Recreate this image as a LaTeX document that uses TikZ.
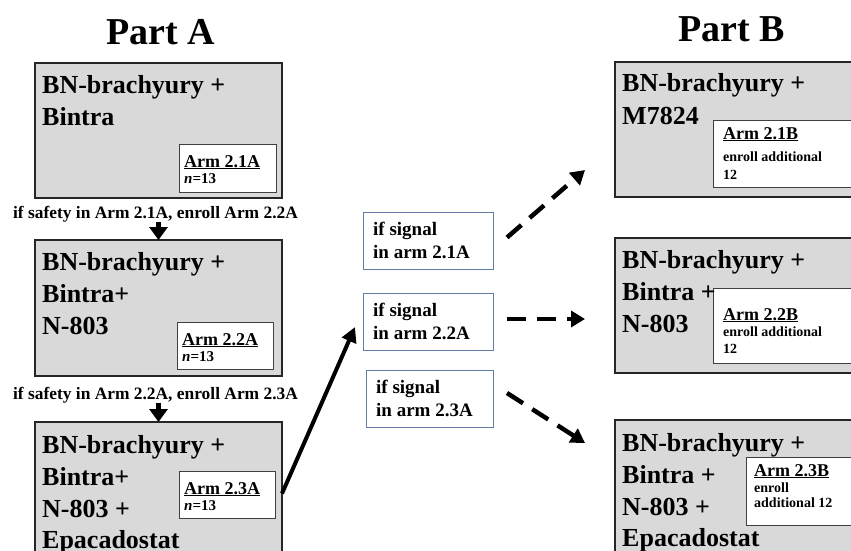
\documentclass[tikz,border=0pt]{standalone}
\usepackage{fontspec}
\setmainfont{Liberation Serif}
\usetikzlibrary{arrows.meta,calc}
\definecolor{boxgray}{RGB}{217,217,217}
\definecolor{sigblue}{RGB}{100,125,165}
\begin{document}
\begin{tikzpicture}[x=1pt,y=-1pt,
  graybox/.style={draw=black!85,line width=1.8pt,fill=boxgray,inner sep=0pt,outer sep=0pt,anchor=north west},
  armbox/.style={draw=black!75,line width=1pt,fill=white,inner sep=0pt,outer sep=0pt,anchor=north west},
  sigbox/.style={draw=sigblue,line width=1pt,fill=white,inner sep=0pt,outer sep=0pt,anchor=north west},
  big/.style={font=\fontsize{26}{32}\selectfont\bfseries,inner sep=0pt,anchor=base west},
  armlab/.style={font=\fontsize{18}{20}\selectfont\bfseries,inner sep=0pt,anchor=base west},
  nlab/.style={font=\fontsize{15}{17}\selectfont\bfseries,inner sep=0pt,anchor=base west},
  small/.style={font=\fontsize{14}{17}\selectfont\bfseries,inner sep=0pt,anchor=base west},
  sig/.style={font=\fontsize{19}{23}\selectfont\bfseries,inner sep=0pt,anchor=base west},
  safe/.style={font=\fontsize{17.4}{20}\selectfont\bfseries,inner sep=0pt,anchor=base},
  title/.style={font=\fontsize{38}{44}\selectfont\bfseries,inner sep=0pt,anchor=base},
  down/.style={line width=4.5pt,-{Triangle[length=13pt,width=18pt]}},
  solidarr/.style={line width=4pt,-{Triangle[length=15pt,width=15pt]}},
  dasharr/.style={line width=4.5pt,dash pattern=on 19pt off 11pt,-{Triangle[length=14pt,width=16pt]}}
]
\useasboundingbox (0,0) rectangle (851,551);
\clip (0,0) rectangle (851,551);

% titles
\node[title] (tA) at (161,45) {Part A};
\node[title] (tB) at (732,42) {Part B};

% gray boxes
\node[graybox,minimum width=247pt,minimum height=135pt] (A1) at (35,63) {};
\node[graybox,minimum width=247pt,minimum height=136pt] (A2) at (35,240) {};
\node[graybox,minimum width=247pt,minimum height=143pt] (A3) at (35,422) {};
\node[graybox,minimum width=255pt,minimum height=135pt] (B1) at (615,62) {};
\node[graybox,minimum width=255pt,minimum height=135pt] (B2) at (615,238) {};
\node[graybox,minimum width=255pt,minimum height=143pt] (B3) at (615,420) {};

% inner arm boxes
\node[armbox,minimum width=97pt,minimum height=48pt] (A1in) at (179,144) {};
\node[armbox,minimum width=96pt,minimum height=47pt] (A2in) at (177,322) {};
\node[armbox,minimum width=96pt,minimum height=47pt] (A3in) at (179,471) {};
\node[armbox,minimum width=160pt,minimum height=67pt] (B1in) at (713,120) {};
\node[armbox,minimum width=160pt,minimum height=75pt] (B2in) at (713,288) {};
\node[armbox,minimum width=130pt,minimum height=68pt] (B3in) at (746,457) {};

% signal boxes
\node[sigbox,minimum width=130pt,minimum height=57pt] (C1) at (363,212) {};
\node[sigbox,minimum width=130pt,minimum height=57pt] (C2) at (363,293) {};
\node[sigbox,minimum width=127pt,minimum height=57pt] (C3) at (366,370) {};

% big box texts
\node[big] (A1a) at (42,93) {BN-brachyury +};
\node[big] (A1b) at (42,125) {Bintra};
\node[big] (A2a) at (42,270) {BN-brachyury +};
\node[big] (A2b) at (42,302) {Bintra+};
\node[big] (A2c) at (42,334) {N-803};
\node[big] (A3a) at (42,453) {BN-brachyury +};
\node[big] (A3b) at (42,485) {Bintra+};
\node[big] (A3c) at (42,517) {N-803 +};
\node[big] (A3d) at (42,548) {Epacadostat};
\node[big] (B1a) at (622,92) {BN-brachyury +};
\node[big] (B1b) at (622,124) {M7824};
\node[big] (B2a) at (622,268) {BN-brachyury +};
\node[big] (B2b) at (622,300) {Bintra +};
\node[big] (B2c) at (622,332) {N-803};
\node[big] (B3a) at (622,451) {BN-brachyury +};
\node[big] (B3b) at (622,483) {Bintra +};
\node[big] (B3c) at (622,515) {N-803 +};
\node[big] (B3d) at (622,546) {Epacadostat};

% arm labels
\node[armlab] (A1l) at (184,167) {\underline{Arm 2.1A}};
\node[nlab] (A1n) at (184,183) {\textit{n}=13};
\node[armlab] (A2l) at (182,345) {\underline{Arm 2.2A}};
\node[nlab] (A2n) at (182,361) {\textit{n}=13};
\node[armlab] (A3l) at (184,494) {\underline{Arm 2.3A}};
\node[nlab] (A3n) at (184,510) {\textit{n}=13};
\node[armlab] (B1l) at (723,139) {\underline{Arm 2.1B}};
\node[small] (B1m) at (723,161) {enroll additional};
\node[small] (B1n) at (723,179) {12};
\node[armlab] (B2l) at (723,320) {\underline{Arm 2.2B}};
\node[small] (B2m) at (723,336) {enroll additional};
\node[small] (B2n) at (723,353) {12};
\node[armlab] (B3l) at (754,476) {\underline{Arm 2.3B}};
\node[small] (B3m) at (754,492) {enroll};
\node[small] (B3n) at (754,507) {additional 12};

% signal texts
\node[sig] (C1a) at (373,235) {if signal};
\node[sig] (C1b) at (373,258) {in arm 2.1A};
\node[sig] (C2a) at (373,316) {if signal};
\node[sig] (C2b) at (373,339) {in arm 2.2A};
\node[sig] (C3a) at (376,393) {if signal};
\node[sig] (C3b) at (376,416) {in arm 2.3A};

% safety labels
\node[safe] (S1) at (155.5,218) {if safety in Arm 2.1A, enroll Arm 2.2A};
\node[safe] (S2) at (155.5,399) {if safety in Arm 2.2A, enroll Arm 2.3A};

% connectors
\draw[down] (S1.south -| A2.north) -- (A2.north);
\draw[down] (S2.south -| A3.north) -- (A3.north);
\draw[solidarr] (A3.east) -- ($(C2.west)+(-8,5.5)$);
\draw[dasharr] ($(C1.east)+(14,-3)$) -- ($(B1.west)+(-30,40.5)$);
\draw[dasharr] ($(C2.east)+(14,-2.5)$) -- ($(B2.west)+(-30,13.5)$);
\draw[dasharr] ($(C3.east)+(14,-5.5)$) -- ($(B3.west)+(-30,-48.5)$);
\end{tikzpicture}
\end{document}
